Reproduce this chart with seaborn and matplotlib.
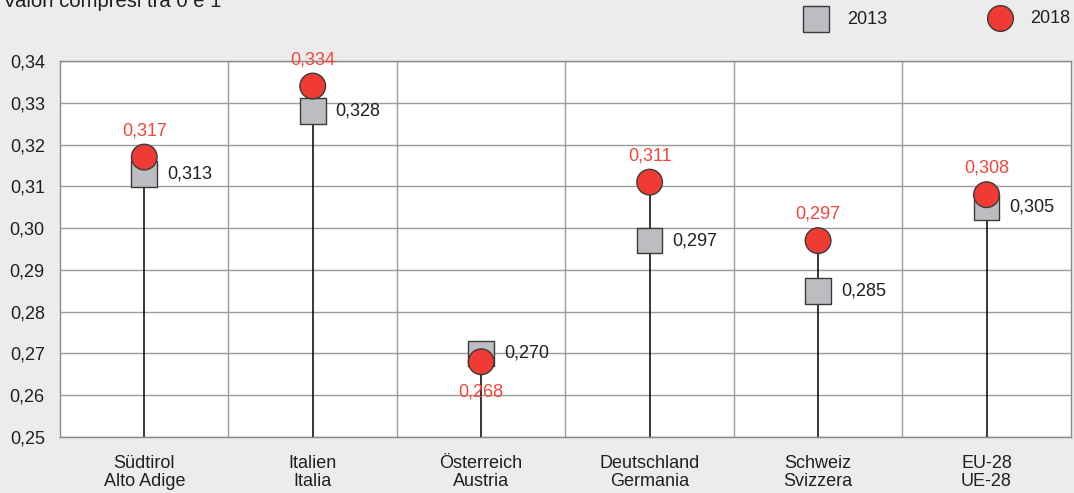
import pandas as pd
import matplotlib
matplotlib.use("Agg")
import matplotlib.pyplot as plt
import seaborn as sns

# data
regions = ["Südtirol\nAlto Adige", "Italien\nItalia", "Österreich\nAustria",
           "Deutschland\nGermania", "Schweiz\nSvizzera", "EU-28\nUE-28"]
val_2013 = [0.313, 0.328, 0.270, 0.297, 0.285, 0.305]
val_2018 = [0.317, 0.334, 0.268, 0.311, 0.297, 0.308]
year_labels = ["2013", "2018"]
yticks = [0.25, 0.26, 0.27, 0.28, 0.29, 0.30, 0.31, 0.32, 0.33, 0.34]

sns.set_style("white")
plt.rcParams["font.family"] = ["Liberation Sans", "DejaVu Sans"]

grey = "#bcbdc0"
red = "#ef3b33"
edge = "#3a3a3a"
txt = "#231f20"
fs = 13

df = pd.DataFrame({"region": regions * 2,
                   "value": val_2013 + val_2018,
                   "year": [year_labels[0]] * 6 + [year_labels[1]] * 6})

fig = plt.figure(figsize=(10.74, 4.93), dpi=100, facecolor="#ececec")
ax = fig.add_axes([0.0559, 0.1136, 0.9411, 0.7627])
ax.set_facecolor("white")

# stems behind the markers
pos = list(range(len(regions)))
tops = [max(a, b) for a, b in zip(val_2013, val_2018)]
ax.vlines(pos, 0.25, tops, color="black", lw=1.1, zorder=2)

sns.scatterplot(data=df, x="region", y="value", hue="year", style="year",
                markers={"2013": "s", "2018": "o"},
                palette={"2013": grey, "2018": red},
                s=340, edgecolor=edge, linewidth=1.0,
                legend=False, zorder=3, ax=ax)

# value labels
for i in pos:
    ax.annotate(f"{val_2013[i]:.3f}".replace(".", ","), (i, val_2013[i]),
                xytext=(16.5, 0), textcoords="offset points",
                ha="left", va="center", fontsize=fs, color=txt, zorder=4)
    off = (0, 19) if val_2018[i] >= val_2013[i] else (0, -22)
    ax.annotate(f"{val_2018[i]:.3f}".replace(".", ","), (i, val_2018[i]),
                xytext=off, textcoords="offset points",
                ha="center", va="center", fontsize=fs, color="#f2463d", zorder=4)

ax.set_xlim(-0.5, 5.5)
ax.set_ylim(0.25, 0.34)
ax.set_yticks(yticks)
ax.set_yticklabels([f"{t:.2f}".replace(".", ",") for t in yticks], fontsize=fs, color=txt)
ax.set_xticks(pos)
ax.set_xticklabels(regions, fontsize=fs, color=txt, linespacing=1.1)
ax.tick_params(axis="y", length=0, pad=11)
ax.tick_params(axis="x", length=0, pad=13)
ax.set_xlabel("")
ax.set_ylabel("")

ax.grid(axis="y", color="#9c9c9c", lw=1.0, zorder=1)
for b in [0.5, 1.5, 2.5, 3.5, 4.5]:
    ax.axvline(b, color="#9c9c9c", lw=1.0, zorder=1)
for sp in ax.spines.values():
    sp.set_color("#8a8a8a")
    sp.set_linewidth(1.0)

# header text and legend
fig.text(0.003, 0.986, "Valori compresi tra 0 e 1", ha="left", va="baseline",
         fontsize=14.6, color=txt)
fig.lines.append(plt.Line2D([0.7595], [0.961], transform=fig.transFigure, marker="s",
                            ms=18.5, mfc=grey, mec=edge, mew=1.0, ls=""))
fig.text(0.789, 0.961, "2013", ha="left", va="center", fontsize=fs, color=txt)
fig.lines.append(plt.Line2D([0.931], [0.963], transform=fig.transFigure, marker="o",
                            ms=18.5, mfc=red, mec=edge, mew=1.0, ls=""))
fig.text(0.959, 0.963, "2018", ha="left", va="center", fontsize=fs, color=txt)

fig.savefig("out.png", dpi=100, facecolor=fig.get_facecolor())
